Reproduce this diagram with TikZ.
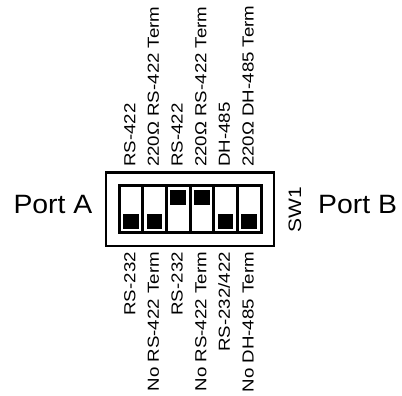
\documentclass[tikz,border=0pt]{standalone}
\usepackage{fontspec}
\setmainfont{Liberation Sans}
\newfontfamily\labelfont[FakeStretch=1.167]{Liberation Sans}
\newfontfamily\portfont[FakeStretch=1.07]{Liberation Sans}
\tikzset{
  swlabel/.style={rotate=90, inner sep=0pt, font=\labelfont\fontsize{16}{16}\selectfont},
  portlabel/.style={inner sep=0pt, font=\portfont\fontsize{26.5}{26.5}\selectfont},
  knob/.style={fill=black},
  slot/.style={fill=white},
}
\begin{document}
\begin{tikzpicture}[x=1pt, y=-1pt]
  \useasboundingbox (0,0) rectangle (402,396);

  % Housing
  \draw[line width=2.2pt] (106,172.5) rectangle (274,246);

  % Switch frame
  \fill (117.5,183.5) rectangle (262.5,233.5);

  % Slots with knobs (knob top y)
  \foreach \i/\ky in {1/214, 2/214, 3/190, 4/190, 5/214, 6/214} {
    \pgfmathsetmacro{\xl}{120.5+23.67*(\i-1)}
    \fill[slot] (\xl,187) rectangle ++(20.67,44);
    \fill[knob] (\xl+2.6,\ky) rectangle ++(15.5,14.5);
  }

  % Labels above the switch
  \foreach \i/\txt in {1/RS-422, 2/220Ω RS-422 Term, 3/RS-422,
                       4/220Ω RS-422 Term, 5/DH-485, 6/220Ω DH-485 Term} {
    \pgfmathsetmacro{\bx}{135.3+23.67*(\i-1)}
    \node[swlabel, anchor=base west] (top\i) at (\bx,167) {\txt};
  }

  % Labels below the switch
  \foreach \i/\txt in {1/RS-232, 2/No RS-422 Term, 3/RS-232,
                       4/No RS-422 Term, 5/{RS-232/422}, 6/No DH-485 Term} {
    \pgfmathsetmacro{\bx}{135.3+23.67*(\i-1)}
    \node[swlabel, anchor=base east] (bot\i) at (\bx,252) {\txt};
  }

  % Ports and switch name
  \node[portlabel, anchor=base east] (porta) at (92.5,213) {Port A};
  \node[portlabel, anchor=base west] (portb) at (318,213) {Port B};
  \node[swlabel, anchor=base, font=\labelfont\fontsize{18}{18}\selectfont] (swname) at (301,210) {SW1};
\end{tikzpicture}
\end{document}
